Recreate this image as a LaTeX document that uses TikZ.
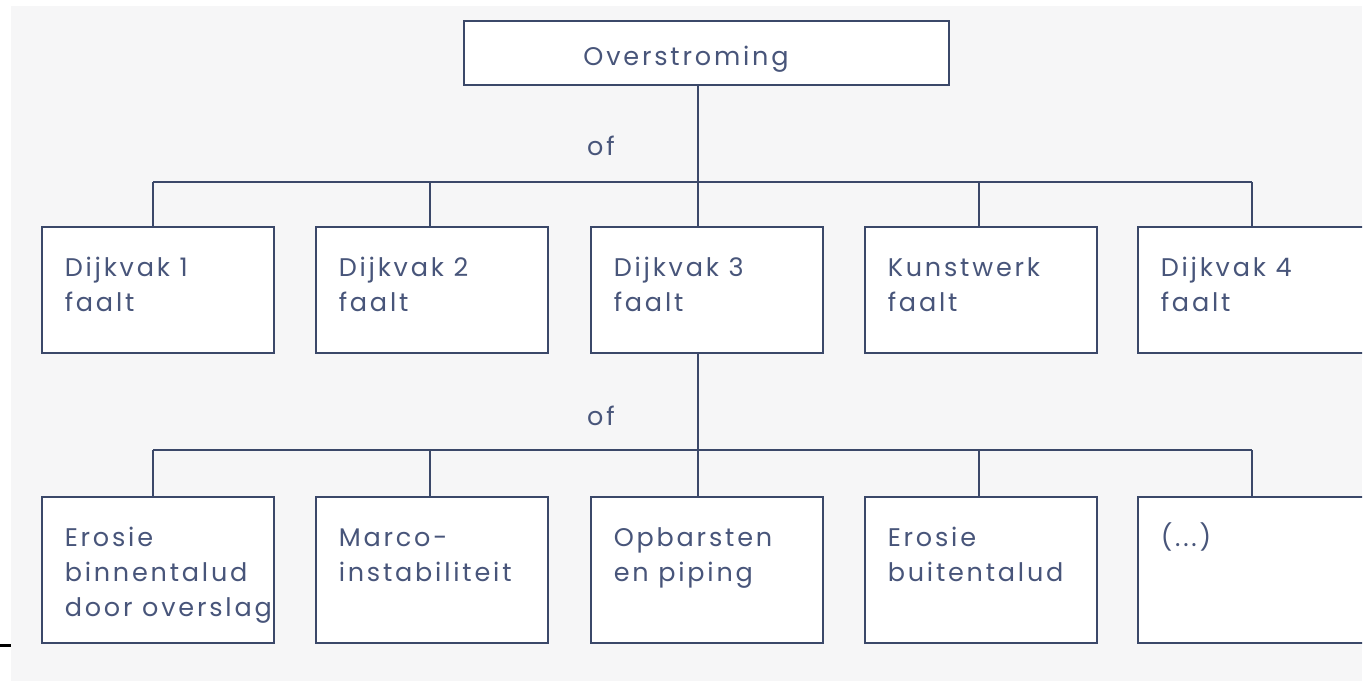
\documentclass[tikz,border=0pt]{standalone}
\usepackage{fontspec}
\setmainfont{Poppins}[LetterSpace=11]
\definecolor{bg}{HTML}{F6F6F7}
\definecolor{ln}{HTML}{3B4869}
\definecolor{tx}{HTML}{48557A}
\newcommand{\bxtext}[2]{\parbox[c][#1pt][t]{232pt}{\raggedright\leftskip=23pt\rule{0pt}{50pt}#2}}
\tikzset{
  boxnode/.style={draw=ln, line width=1.5pt, fill=white, inner sep=0pt, anchor=north west, text=tx, font=\fontsize{25.5}{35}\selectfont},
  conn/.style={draw=ln, line width=1.5pt},
  oftext/.style={text=tx, font=\fontsize{25.5}{28}\selectfont, inner sep=0pt, anchor=base west}
}
\begin{document}
\begin{tikzpicture}[x=1pt,y=-1pt]
\useasboundingbox (0,0) rectangle (1367,681);
\fill[white] (0,0) rectangle (1367,681);
\fill[bg] (11,6) rectangle (1362,681);
\draw[black, line width=3pt] (0,645) -- (11,645);
\begin{scope}
\clip (0,0) rectangle (1362,681);
% top
\node[boxnode, minimum width=485pt, minimum height=64pt, anchor=north west] (top) at (463,20) {};
\node[text=tx, font=\fontsize{25.5}{28}\selectfont, inner sep=0pt, anchor=base] (toptext) at (686,65) {Overstroming};
% row 1
\node[boxnode] (d1) at (41,226) {\bxtext{126}{Dijkvak 1\\faalt}};
\node[boxnode] (d2) at (315,226) {\bxtext{126}{Dijkvak 2\\faalt}};
\node[boxnode] (d3) at (590,226) {\bxtext{126}{Dijkvak 3\\faalt}};
\node[boxnode] (d4) at (864,226) {\bxtext{126}{Kunstwerk\\faalt}};
\node[boxnode] (d5) at (1137,226) {\bxtext{126}{Dijkvak 4\\faalt}};
% row 2
\node[boxnode] (e1) at (41,496) {\bxtext{146}{Erosie\\binnentalud\\door overslag}};
\node[boxnode] (e2) at (315,496) {\bxtext{146}{Marco-\\instabiliteit}};
\node[boxnode] (e3) at (590,496) {\bxtext{146}{Opbarsten\\en piping}};
\node[boxnode] (e4) at (864,496) {\bxtext{146}{Erosie\\buitentalud}};
\node[boxnode] (e5) at (1137,496) {\bxtext{146}{(...)}};
% of labels
\node[oftext] (of1) at (587,155) {of};
\node[oftext] (of2) at (587,425) {of};
% bus 1
\coordinate (a1) at (153,182);
\coordinate (a2) at (430,182);
\coordinate (a3) at (698,182);
\coordinate (a4) at (979,182);
\coordinate (a5) at (1252,182);
\draw[conn] (a1) -- (a5);
\draw[conn] (top.south -| a3) -- (a3 |- d3.north);
\draw[conn] (a1) -- (a1 |- d1.north);
\draw[conn] (a2) -- (a2 |- d2.north);
\draw[conn] (a4) -- (a4 |- d4.north);
\draw[conn] (a5) -- (a5 |- d5.north);
% bus 2
\coordinate (b1) at (153,450);
\coordinate (b2) at (430,450);
\coordinate (b3) at (698,450);
\coordinate (b4) at (979,450);
\coordinate (b5) at (1252,450);
\draw[conn] (b1) -- (b5);
\draw[conn] (d3.south -| b3) -- (b3 |- e3.north);
\draw[conn] (b1) -- (b1 |- e1.north);
\draw[conn] (b2) -- (b2 |- e2.north);
\draw[conn] (b4) -- (b4 |- e4.north);
\draw[conn] (b5) -- (b5 |- e5.north);
\end{scope}
\end{tikzpicture}
\end{document}
